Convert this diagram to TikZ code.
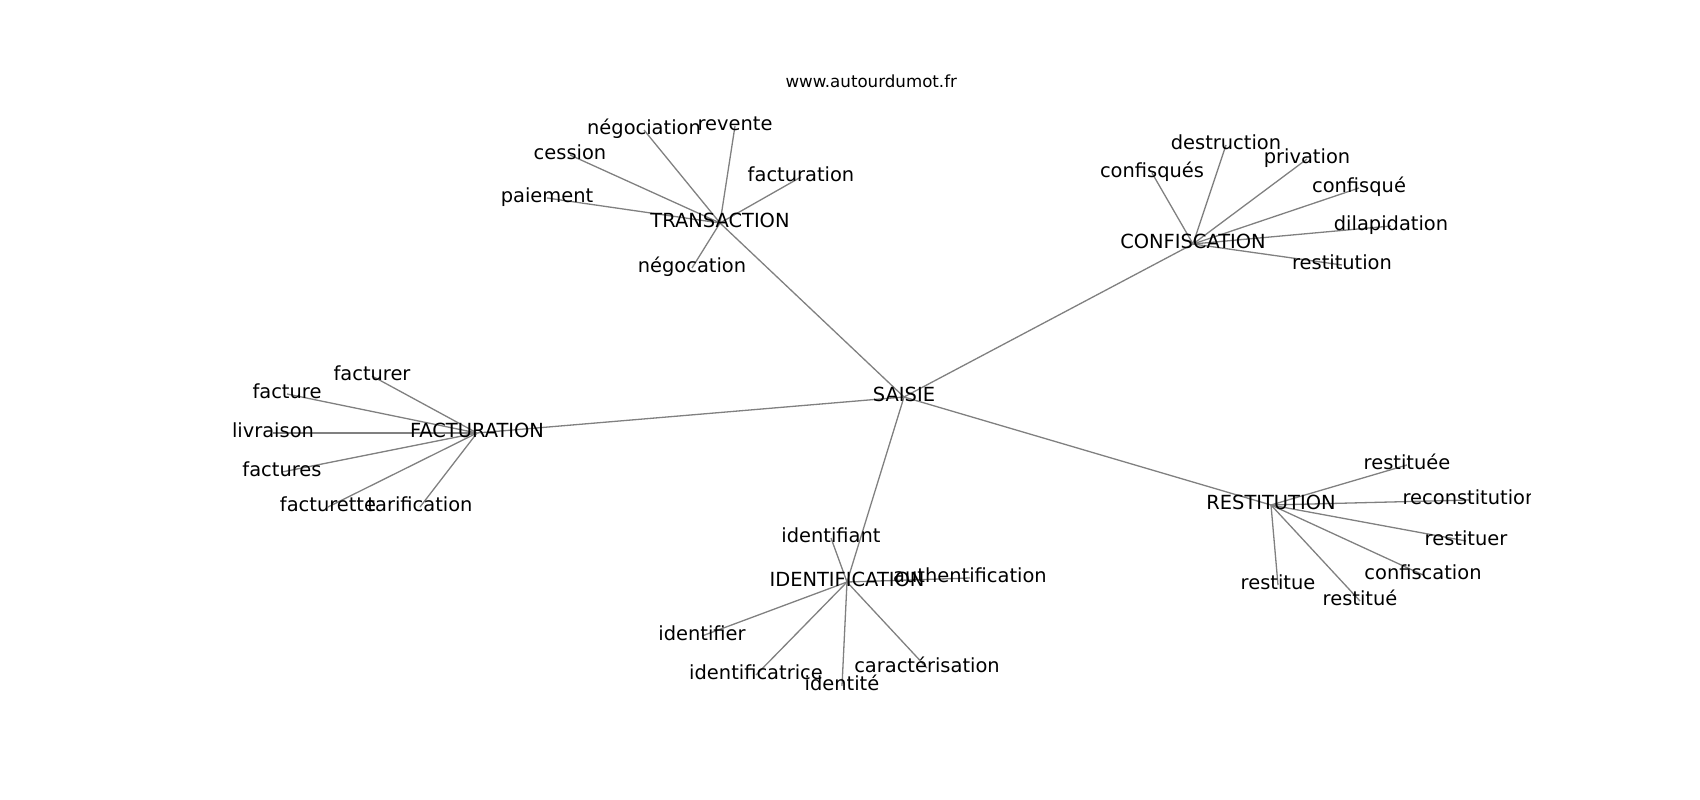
\documentclass[tikz,border=0pt]{standalone}
\usepackage{fontspec}
\setmainfont{DejaVu Sans}
\usetikzlibrary{backgrounds}
\begin{document}
\begin{tikzpicture}[x=1pt,y=-1pt,
  lbl/.style={inner sep=0pt, text height=14.8pt, text depth=6.4pt, font=\fontsize{19.44}{23}\selectfont, text=black},
  ttl/.style={inner sep=0pt, anchor=base, font=\fontsize{16.67}{20}\selectfont, text=black},
  edge/.style={draw=gray, line width=1.3pt}]
\useasboundingbox (0,0) rectangle (1700,800);
\node[ttl] (title) at (871.25,88) {www.autourdumot.fr};
\begin{scope}
\clip (212.5,96) rectangle (1530,712);
% hubs
\node[lbl] (SAI) at (904,397) {SAISIE};
\node[lbl] (TRA) at (720,223) {TRANSACTION};
\node[lbl] (CON) at (1193,244) {CONFISCATION};
\node[lbl] (FAC) at (477,433) {FACTURATION};
\node[lbl] (RES) at (1271,505) {RESTITUTION};
\node[lbl] (IDE) at (847,582) {IDENTIFICATION};
% TRANSACTION leaves
\node[lbl] (t1) at (644,130) {négociation};
\node[lbl] (t2) at (735,126) {revente};
\node[lbl] (t3) at (570,155) {cession};
\node[lbl] (t4) at (801,177) {facturation};
\node[lbl] (t5) at (547,198) {paiement};
\node[lbl] (t6) at (692,268) {négocation};
% CONFISCATION leaves
\node[lbl] (c1) at (1226,145) {destruction};
\node[lbl] (c2) at (1307,159) {privation};
\node[lbl] (c3) at (1152,173) {confisqués};
\node[lbl] (c4) at (1359,188) {confisqué};
\node[lbl] (c5) at (1391,226) {dilapidation};
\node[lbl] (c6) at (1342,265) {restitution};
% FACTURATION leaves
\node[lbl] (f1) at (372,376) {facturer};
\node[lbl] (f2) at (287,394) {facture};
\node[lbl] (f3) at (273,433) {livraison};
\node[lbl] (f4) at (282,472) {factures};
\node[lbl] (f5) at (328,507) {facturette};
\node[lbl] (f6) at (420,507) {tarification};
% RESTITUTION leaves
\node[lbl] (r1) at (1407,465) {restituée};
\node[lbl] (r2) at (1470,500) {reconstitution};
\node[lbl] (r3) at (1466,541) {restituer};
\node[lbl] (r4) at (1423,575) {confiscation};
\node[lbl] (r5) at (1278,585) {restitue};
\node[lbl] (r6) at (1360,601) {restitué};
% IDENTIFICATION leaves
\node[lbl] (i1) at (831,538) {identifiant};
\node[lbl] (i2) at (970,578) {authentification};
\node[lbl] (i3) at (702,636) {identifier};
\node[lbl] (i4) at (756,675) {identificatrice};
\node[lbl] (i5) at (842,686) {identité};
\node[lbl] (i6) at (927,668) {caractérisation};
\end{scope}
\begin{scope}[on background layer]
\foreach \h in {TRA,CON,FAC,RES,IDE} \draw[edge] (SAI.center) -- (\h.center);
\foreach \l in {t1,t2,t3,t4,t5,t6} \draw[edge] (TRA.center) -- (\l.center);
\foreach \l in {c1,c2,c3,c4,c5,c6} \draw[edge] (CON.center) -- (\l.center);
\foreach \l in {f1,f2,f3,f4,f5,f6} \draw[edge] (FAC.center) -- (\l.center);
\foreach \l in {r1,r2,r3,r4,r5,r6} \draw[edge] (RES.center) -- (\l.center);
\foreach \l in {i1,i2,i3,i4,i5,i6} \draw[edge] (IDE.center) -- (\l.center);
\end{scope}
\end{tikzpicture}
\end{document}
